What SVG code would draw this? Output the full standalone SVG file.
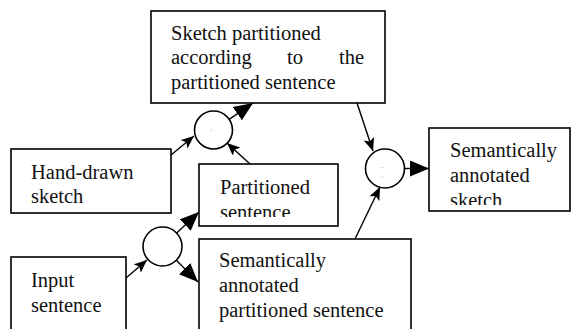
<svg xmlns="http://www.w3.org/2000/svg" width="572" height="329" viewBox="0 0 572 329">
<style>
  .box{fill:#fff;stroke:#000;stroke-width:1.6}
  .node{fill:#fff;stroke:#000;stroke-width:1.6}
  .t{font-family:"Liberation Serif","Times New Roman",serif;font-size:20.5px;fill:#111}
  .c{stroke:#000;stroke-width:1.4;fill:none}
  .dot{fill:#999}
</style>
<defs>
  <marker id="big" markerUnits="userSpaceOnUse" markerWidth="22" markerHeight="18" refX="19" refY="8" orient="auto">
    <path d="M0,0 L19,8 L0,16 z" fill="#000"/>
  </marker>
  <marker id="small" markerUnits="userSpaceOnUse" markerWidth="16" markerHeight="12" refX="13" refY="5.5" orient="auto">
    <path d="M0,0 L13,5.5 L0,11 L3,5.5 z" fill="#000"/>
  </marker>
  <clipPath id="clipPart"><rect x="199" y="164" width="139" height="53"/></clipPath>
  <clipPath id="clipSas"><rect x="429" y="128" width="141" height="77"/></clipPath>
</defs>
<rect width="572" height="329" fill="#fff"/>

<g id="connectors">
  <line class="c" x1="171" y1="155" x2="194" y2="136" marker-end="url(#small)"/>
  <line class="c" x1="250" y1="164" x2="227" y2="143" marker-end="url(#small)"/>
  <line class="c" x1="229.2" y1="119.3" x2="253" y2="103" marker-end="url(#big)"/>
  <line class="c" x1="126" y1="278" x2="147" y2="260" marker-end="url(#small)"/>
  <line class="c" x1="176.7" y1="233.1" x2="199" y2="212" marker-end="url(#big)"/>
  <line class="c" x1="176.3" y1="260.3" x2="198" y2="282" marker-end="url(#big)"/>
  <line class="c" x1="357" y1="103" x2="373" y2="151" marker-end="url(#small)"/>
  <line class="c" x1="355" y1="239" x2="380" y2="187" marker-end="url(#small)"/>
  <line class="c" x1="404.5" y1="168.5" x2="429" y2="168.5" marker-end="url(#big)"/>
</g>

<g id="sketch-partitioned">
  <rect class="box" x="151" y="11" width="234" height="92"/>
  <text class="t" x="171" y="40">Sketch partitioned</text>
  <text class="t" y="64"><tspan x="171">according</tspan><tspan x="287">to</tspan><tspan x="339">the</tspan></text>
  <text class="t" x="171" y="89">partitioned sentence</text>
</g>

<g id="hand-drawn-sketch">
  <rect class="box" x="11" y="149" width="160" height="64"/>
  <text class="t" x="31" y="179">Hand-drawn</text>
  <text class="t" x="31" y="203">sketch</text>
</g>

<g id="op1">
  <circle class="node" cx="213.5" cy="130" r="19"/>
  <circle class="dot" cx="211" cy="130" r="0.6"/>
</g>

<g id="partitioned-sentence">
  <rect class="box" x="199" y="164" width="139" height="62"/>
  <g clip-path="url(#clipPart)">
    <text class="t" x="220" y="194">Partitioned</text>
    <text class="t" x="220" y="219">sentence</text>
  </g>
</g>

<g id="input-sentence">
  <rect class="box" x="11" y="257" width="115" height="80"/>
  <text class="t" x="31" y="287">Input</text>
  <text class="t" x="31" y="312">sentence</text>
</g>

<g id="op3">
  <circle class="node" cx="162.5" cy="246.5" r="19.5"/>
</g>

<g id="sem-annotated-partitioned">
  <rect class="box" x="199" y="239" width="212" height="100"/>
  <text class="t" x="219" y="267">Semantically</text>
  <text class="t" x="219" y="292">annotated</text>
  <text class="t" x="219" y="317">partitioned sentence</text>
</g>

<g id="op2">
  <circle class="node" cx="385" cy="168.5" r="19.5"/>
  <circle class="dot" cx="382.3" cy="167.5" r="0.6"/>
  <circle class="dot" cx="382.3" cy="177" r="0.6"/>
</g>

<g id="sem-annotated-sketch">
  <rect class="box" x="429" y="128" width="141" height="83"/>
  <g clip-path="url(#clipSas)">
    <text class="t" x="450" y="157">Semantically</text>
    <text class="t" x="450" y="182">annotated</text>
    <text class="t" x="450" y="207">sketch</text>
  </g>
</g>
</svg>
